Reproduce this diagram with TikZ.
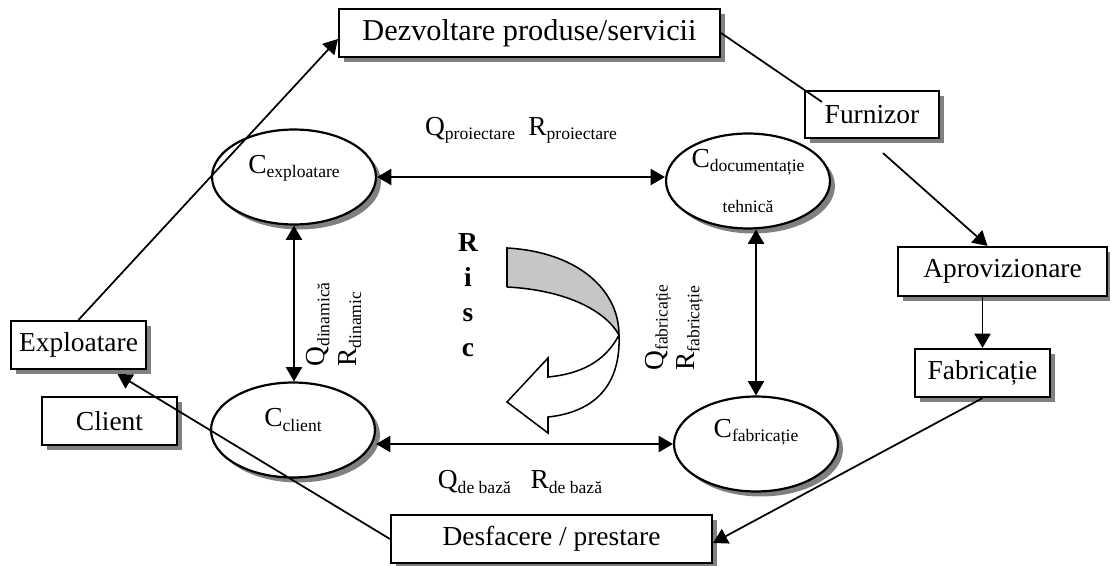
\documentclass[tikz,border=0pt]{standalone}
\usepackage{fontspec}
\setmainfont{Liberation Serif}
\usetikzlibrary{shapes.geometric,shadows,arrows.meta,calc}
\newcommand{\indice}[1]{\raisebox{-2pt}{\fontsize{8}{9}\selectfont #1}}
\tikzset{
  umbra/.style={drop shadow={shadow xshift=.08cm,shadow yshift=-.08cm,fill=gray,draw=none,opacity=1}},
  cutie/.style={draw,line width=1pt,fill=white,inner sep=0pt,minimum height=.768cm,umbra,font=\fontsize{12.5}{14}\selectfont},
  elips/.style={ellipse,draw,line width=1pt,fill=white,inner sep=0pt,minimum width=2.624cm,minimum height=1.52cm,umbra},
  eticheta/.style={inner sep=0pt,font=\fontsize{12.5}{14.5}\selectfont},
  sag/.style={line width=.8pt,-{Triangle[length=.23cm,width=.26cm]}},
  dubla/.style={line width=.8pt,{Triangle[length=.23cm,width=.26cm]}-{Triangle[length=.23cm,width=.26cm]}},
}
\begin{document}
\begin{tikzpicture}[x=0.016cm,y=-0.016cm]
\useasboundingbox (0,0) rectangle (1110,566);
% cutii
\node[cutie,minimum width=6.096cm,font=\fontsize{13.8}{15}\selectfont] (dezv) at (529.5,33) {Dezvoltare produse/servicii};
\node[cutie,minimum width=2.144cm,minimum height=.752cm] (furn) at (872,114.5) {Furnizor};
\node[cutie,minimum width=3.344cm,minimum height=.784cm] (apro) at (1002.5,271.5) {Aprovizionare};
\node[cutie,minimum width=2.16cm] (fab) at (982.5,373) {Fabricație};
\node[cutie,minimum width=2.16cm] (expl) at (78.5,345) {Exploatare};
\node[cutie,minimum width=2.16cm] (client) at (109.5,421) {Client};
\node[cutie,minimum width=5.136cm] (desf) at (551.5,539) {Desfacere / prestare};
% elipse
\node[elips] (cexp) at (294,177) {};
\node[elips] (cdoc) at (748,181) {};
\node[elips] (cclient) at (293,430) {};
\node[elips] (cfab) at (756,444) {};
\node[eticheta] (texp) at (294,168) {C\indice{exploatare}};
\node[eticheta,align=center] (tdoc) at (748,181) {C\indice{documentație}\\[4pt]\indice{tehnică}};
\node[eticheta] (tclient) at (293,420) {C\indice{client}};
\node[eticheta] (tfab) at (756,432) {C\indice{fabricație}};
\draw[dubla] (cexp.east) -- (cexp.east -| cdoc.west);
\draw[dubla] (cfab.west) -- (cfab.west -| cclient.east);
\draw[dubla] (cexp.south) -- (cexp.south |- cclient.north);
\draw[dubla] (cfab.north |- cdoc.south) -- (cfab.north);
\node[eticheta] (qproi) at (521,130) {Q\indice{proiectare}\hspace{6pt}R\indice{proiectare}};
\node[eticheta] (qbaza) at (520,482) {Q\indice{de bază}\hspace{9pt}R\indice{de bază}};
\node[eticheta,rotate=90,anchor=west,align=left] (qdin) at (334,367) {Q\indice{dinamică}\\R\indice{dinamic}};
\node[eticheta,rotate=90,anchor=west,align=left] (qfab) at (674,371) {Q\indice{fabricație}\\R\indice{fabricație}};
% risc
\node[align=center,font=\bfseries\fontsize{12.5}{16}\selectfont] (risc) at (468,295) {R\\i\\s\\c};
\fill[gray!45] (507,248) .. controls (578,252) and (619,290) .. (619,335)
  .. controls (605,310) and (565,290) .. (507,287) -- cycle;
\draw[line width=.7pt] (507,287) -- (507,248) .. controls (578,252) and (619,290) .. (619,335)
  .. controls (621,385) and (595,412) .. (548,417) -- (548,433) -- (507,402) -- (548,358) -- (548,377)
  .. controls (580,374) and (605,362) .. (619,335);
\draw[line width=.7pt] (507,287) .. controls (565,290) and (605,310) .. (619,335);
% legaturi
\draw[sag] (expl.north) -- ($(dezv.west)+(0,6)$);
\draw[line width=.8pt] (dezv.east) -- ($(furn.north west)+(18,12)$);
\draw[sag] ($(furn.south)+(11,14)$) -- ($(apro.north)+(-15,0)$);
\draw[sag] (apro.south -| fab.north) -- (fab.north);
\draw[sag] (fab.south) -- ($(desf.east)+(0,4)$);
\draw[sag] (desf.west) -- ($(expl.south)+(39,4)$);
\end{tikzpicture}
\end{document}
